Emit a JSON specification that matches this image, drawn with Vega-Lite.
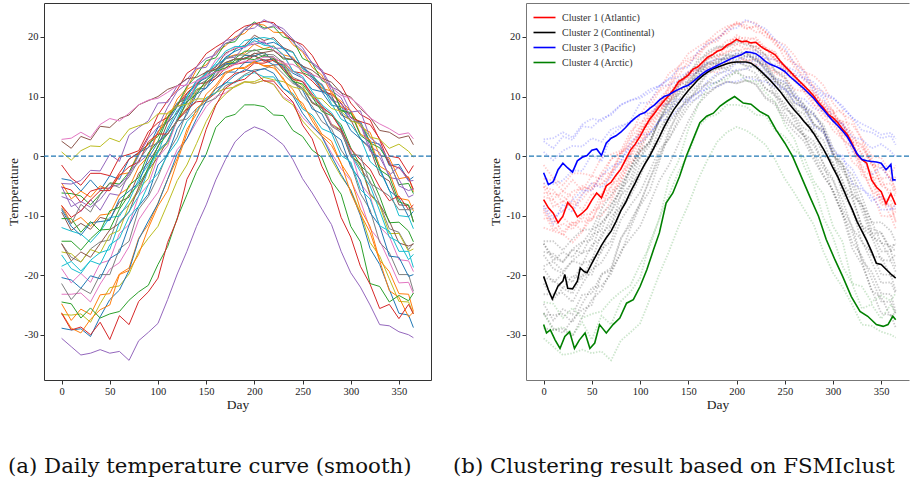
{
"$schema":"https://vega.github.io/schema/vega-lite/v6.json",
"background":"white",
"padding":{"left":5,"top":2,"right":0,"bottom":0},
"spacing":20,
"config":{
"font":"Liberation Serif",
"axis":{"grid":false,"domain":false,"tickColor":"#333","tickSize":4,"tickWidth":1,"labelFont":"Liberation Serif","labelFontSize":10.5,"labelColor":"#222","titleFont":"Liberation Serif","titleFontSize":13.5,"titleFontWeight":"normal","titleColor":"#222","labelPadding":2},
"title":{"font":"DejaVu Serif","fontSize":21.3,"fontWeight":"normal","color":"#111"}
},
"datasets":{
"nm":[{"k":1,"n":"Cluster 1 (Atlantic)"},{"k":2,"n":"Cluster 2 (Continental)"},{"k":3,"n":"Cluster 3 (Pacific)"},{"k":4,"n":"Cluster 4 (Arctic)"}],
"cl":[{"s":0,"k":1},{"s":1,"k":1},{"s":2,"k":1},{"s":3,"k":1},{"s":4,"k":1},{"s":5,"k":1},{"s":6,"k":2},{"s":7,"k":2},{"s":8,"k":2},{"s":9,"k":1},{"s":10,"k":1},{"s":11,"k":1},{"s":12,"k":1},{"s":13,"k":1},{"s":14,"k":1},{"s":15,"k":2},{"s":16,"k":2},{"s":17,"k":2},{"s":18,"k":2},{"s":19,"k":2},{"s":20,"k":2},{"s":21,"k":2},{"s":22,"k":2},{"s":23,"k":3},{"s":24,"k":3},{"s":25,"k":3},{"s":26,"k":3},{"s":27,"k":3},{"s":28,"k":3},{"s":29,"k":2},{"s":30,"k":2},{"s":31,"k":2},{"s":32,"k":4},{"s":33,"k":4},{"s":34,"k":4}],
"mn":[
{"k":1,"d":0,"t":-7.3},{"k":1,"d":5,"t":-8.7},{"k":1,"d":10,"t":-9.6},{"k":1,"d":15,"t":-11.2},{"k":1,"d":20,"t":-10.1},{"k":1,"d":25,"t":-7.8},{"k":1,"d":30,"t":-8.7},{"k":1,"d":35,"t":-10.2},{"k":1,"d":40,"t":-9.6},{"k":1,"d":45,"t":-8.8},{"k":1,"d":50,"t":-7.4},{"k":1,"d":55,"t":-6.2},{"k":1,"d":60,"t":-7.0},{"k":1,"d":65,"t":-5.0},{"k":1,"d":70,"t":-4.4},{"k":1,"d":75,"t":-3.2},{"k":1,"d":80,"t":-2.2},{"k":1,"d":85,"t":-0.6},{"k":1,"d":90,"t":1.0},{"k":1,"d":95,"t":2.0},{"k":1,"d":100,"t":3.3},{"k":1,"d":105,"t":4.8},{"k":1,"d":110,"t":6.2},{"k":1,"d":115,"t":7.2},{"k":1,"d":120,"t":8.3},{"k":1,"d":125,"t":9.3},{"k":1,"d":130,"t":10.2},{"k":1,"d":135,"t":11.2},{"k":1,"d":140,"t":12.5},{"k":1,"d":145,"t":13.0},{"k":1,"d":150,"t":13.6},{"k":1,"d":155,"t":14.6},{"k":1,"d":160,"t":15.0},{"k":1,"d":165,"t":15.8},{"k":1,"d":170,"t":16.6},{"k":1,"d":175,"t":17.0},{"k":1,"d":180,"t":17.6},{"k":1,"d":185,"t":17.9},{"k":1,"d":190,"t":18.6},{"k":1,"d":195,"t":19.0},{"k":1,"d":200,"t":19.6},{"k":1,"d":205,"t":19.2},{"k":1,"d":210,"t":19.3},{"k":1,"d":215,"t":19.0},{"k":1,"d":220,"t":19.1},{"k":1,"d":225,"t":18.4},{"k":1,"d":230,"t":17.9},{"k":1,"d":235,"t":17.5},{"k":1,"d":240,"t":17.0},{"k":1,"d":245,"t":16.0},{"k":1,"d":250,"t":15.1},{"k":1,"d":255,"t":14.3},{"k":1,"d":260,"t":13.4},{"k":1,"d":265,"t":12.6},{"k":1,"d":270,"t":11.8},{"k":1,"d":275,"t":11.0},{"k":1,"d":280,"t":10.1},{"k":1,"d":285,"t":9.0},{"k":1,"d":290,"t":8.1},{"k":1,"d":295,"t":7.0},{"k":1,"d":300,"t":6.4},{"k":1,"d":305,"t":5.6},{"k":1,"d":310,"t":4.5},{"k":1,"d":315,"t":3.6},{"k":1,"d":320,"t":2.0},{"k":1,"d":325,"t":0.2},{"k":1,"d":330,"t":-0.6},{"k":1,"d":335,"t":-1.2},{"k":1,"d":340,"t":-4.0},{"k":1,"d":345,"t":-5.2},{"k":1,"d":350,"t":-6.0},{"k":1,"d":355,"t":-8.0},{"k":1,"d":360,"t":-6.3},{"k":1,"d":365,"t":-8.2},
{"k":2,"d":0,"t":-20.2},{"k":2,"d":5,"t":-22.5},{"k":2,"d":9,"t":-24.0},{"k":2,"d":15,"t":-21.8},{"k":2,"d":20,"t":-21.0},{"k":2,"d":22,"t":-19.9},{"k":2,"d":25,"t":-22.2},{"k":2,"d":30,"t":-22.3},{"k":2,"d":35,"t":-21.0},{"k":2,"d":38,"t":-18.8},{"k":2,"d":42,"t":-19.4},{"k":2,"d":45,"t":-19.6},{"k":2,"d":50,"t":-18.0},{"k":2,"d":55,"t":-16.5},{"k":2,"d":60,"t":-15.0},{"k":2,"d":65,"t":-13.7},{"k":2,"d":70,"t":-12.6},{"k":2,"d":75,"t":-11.0},{"k":2,"d":80,"t":-9.2},{"k":2,"d":85,"t":-7.8},{"k":2,"d":90,"t":-6.0},{"k":2,"d":95,"t":-4.5},{"k":2,"d":100,"t":-2.8},{"k":2,"d":105,"t":-1.3},{"k":2,"d":110,"t":0.0},{"k":2,"d":115,"t":1.6},{"k":2,"d":120,"t":3.2},{"k":2,"d":125,"t":4.9},{"k":2,"d":130,"t":6.4},{"k":2,"d":135,"t":7.8},{"k":2,"d":140,"t":8.9},{"k":2,"d":145,"t":10.0},{"k":2,"d":150,"t":11.0},{"k":2,"d":155,"t":11.9},{"k":2,"d":160,"t":12.8},{"k":2,"d":165,"t":13.5},{"k":2,"d":170,"t":14.1},{"k":2,"d":175,"t":14.6},{"k":2,"d":180,"t":14.9},{"k":2,"d":185,"t":15.2},{"k":2,"d":190,"t":15.5},{"k":2,"d":195,"t":15.7},{"k":2,"d":200,"t":15.8},{"k":2,"d":205,"t":15.8},{"k":2,"d":210,"t":15.8},{"k":2,"d":215,"t":15.6},{"k":2,"d":220,"t":15.0},{"k":2,"d":225,"t":14.3},{"k":2,"d":230,"t":13.5},{"k":2,"d":235,"t":12.7},{"k":2,"d":240,"t":11.8},{"k":2,"d":245,"t":10.9},{"k":2,"d":250,"t":9.8},{"k":2,"d":255,"t":8.7},{"k":2,"d":260,"t":7.7},{"k":2,"d":265,"t":6.8},{"k":2,"d":270,"t":5.8},{"k":2,"d":275,"t":4.9},{"k":2,"d":280,"t":3.8},{"k":2,"d":285,"t":2.5},{"k":2,"d":290,"t":1.2},{"k":2,"d":295,"t":-0.3},{"k":2,"d":300,"t":-2.0},{"k":2,"d":305,"t":-3.5},{"k":2,"d":310,"t":-5.3},{"k":2,"d":315,"t":-7.2},{"k":2,"d":320,"t":-9.0},{"k":2,"d":325,"t":-11.0},{"k":2,"d":330,"t":-12.6},{"k":2,"d":335,"t":-14.2},{"k":2,"d":340,"t":-16.0},{"k":2,"d":345,"t":-18.0},{"k":2,"d":350,"t":-18.2},{"k":2,"d":355,"t":-19.0},{"k":2,"d":360,"t":-19.8},{"k":2,"d":365,"t":-20.5},
{"k":3,"d":0,"t":-2.8},{"k":3,"d":5,"t":-4.8},{"k":3,"d":10,"t":-4.3},{"k":3,"d":15,"t":-2.3},{"k":3,"d":20,"t":-1.2},{"k":3,"d":25,"t":-2.0},{"k":3,"d":30,"t":-2.7},{"k":3,"d":35,"t":-0.8},{"k":3,"d":40,"t":-0.2},{"k":3,"d":45,"t":0.1},{"k":3,"d":50,"t":1.0},{"k":3,"d":55,"t":1.2},{"k":3,"d":60,"t":0.1},{"k":3,"d":65,"t":2.2},{"k":3,"d":70,"t":3.0},{"k":3,"d":75,"t":3.4},{"k":3,"d":80,"t":4.0},{"k":3,"d":85,"t":4.8},{"k":3,"d":90,"t":5.7},{"k":3,"d":95,"t":6.4},{"k":3,"d":100,"t":7.0},{"k":3,"d":105,"t":7.3},{"k":3,"d":110,"t":8.0},{"k":3,"d":115,"t":8.6},{"k":3,"d":120,"t":9.4},{"k":3,"d":125,"t":10.0},{"k":3,"d":130,"t":10.3},{"k":3,"d":135,"t":10.8},{"k":3,"d":140,"t":11.2},{"k":3,"d":145,"t":11.6},{"k":3,"d":150,"t":11.9},{"k":3,"d":155,"t":12.5},{"k":3,"d":160,"t":13.2},{"k":3,"d":165,"t":13.9},{"k":3,"d":170,"t":14.4},{"k":3,"d":175,"t":14.8},{"k":3,"d":180,"t":15.2},{"k":3,"d":185,"t":15.6},{"k":3,"d":190,"t":16.0},{"k":3,"d":195,"t":16.4},{"k":3,"d":200,"t":16.7},{"k":3,"d":205,"t":17.0},{"k":3,"d":210,"t":17.5},{"k":3,"d":215,"t":17.4},{"k":3,"d":220,"t":17.2},{"k":3,"d":225,"t":16.6},{"k":3,"d":230,"t":15.9},{"k":3,"d":235,"t":15.4},{"k":3,"d":240,"t":15.1},{"k":3,"d":245,"t":14.7},{"k":3,"d":250,"t":14.2},{"k":3,"d":255,"t":13.4},{"k":3,"d":260,"t":12.7},{"k":3,"d":265,"t":12.0},{"k":3,"d":270,"t":11.3},{"k":3,"d":275,"t":10.5},{"k":3,"d":280,"t":9.7},{"k":3,"d":285,"t":8.7},{"k":3,"d":290,"t":7.8},{"k":3,"d":295,"t":6.8},{"k":3,"d":300,"t":5.9},{"k":3,"d":305,"t":5.1},{"k":3,"d":310,"t":4.2},{"k":3,"d":315,"t":3.2},{"k":3,"d":320,"t":1.8},{"k":3,"d":325,"t":0.4},{"k":3,"d":330,"t":-0.6},{"k":3,"d":335,"t":-0.8},{"k":3,"d":340,"t":-0.9},{"k":3,"d":345,"t":-1.0},{"k":3,"d":350,"t":-1.2},{"k":3,"d":355,"t":-2.3},{"k":3,"d":360,"t":-1.4},{"k":3,"d":362,"t":-4.0},{"k":3,"d":365,"t":-4.0},
{"k":4,"d":0,"t":-28.3},{"k":4,"d":3,"t":-29.7},{"k":4,"d":7,"t":-29.2},{"k":4,"d":12,"t":-30.9},{"k":4,"d":17,"t":-32.3},{"k":4,"d":22,"t":-30.3},{"k":4,"d":27,"t":-29.5},{"k":4,"d":32,"t":-32.3},{"k":4,"d":37,"t":-30.9},{"k":4,"d":43,"t":-29.7},{"k":4,"d":48,"t":-32.3},{"k":4,"d":53,"t":-31.4},{"k":4,"d":58,"t":-28.3},{"k":4,"d":65,"t":-29.7},{"k":4,"d":72,"t":-28.3},{"k":4,"d":79,"t":-27.2},{"k":4,"d":86,"t":-24.7},{"k":4,"d":93,"t":-24.1},{"k":4,"d":100,"t":-21.9},{"k":4,"d":107,"t":-19.1},{"k":4,"d":114,"t":-15.7},{"k":4,"d":120,"t":-12.9},{"k":4,"d":127,"t":-7.9},{"k":4,"d":134,"t":-6.2},{"k":4,"d":141,"t":-3.4},{"k":4,"d":148,"t":0.0},{"k":4,"d":155,"t":2.8},{"k":4,"d":162,"t":5.6},{"k":4,"d":169,"t":6.7},{"k":4,"d":176,"t":7.2},{"k":4,"d":183,"t":8.4},{"k":4,"d":190,"t":9.2},{"k":4,"d":198,"t":10.0},{"k":4,"d":207,"t":8.9},{"k":4,"d":215,"t":8.7},{"k":4,"d":224,"t":7.5},{"k":4,"d":233,"t":6.7},{"k":4,"d":241,"t":4.4},{"k":4,"d":250,"t":2.2},{"k":4,"d":258,"t":0.0},{"k":4,"d":267,"t":-3.4},{"k":4,"d":276,"t":-6.8},{"k":4,"d":285,"t":-10.1},{"k":4,"d":293,"t":-14.0},{"k":4,"d":302,"t":-17.4},{"k":4,"d":310,"t":-20.2},{"k":4,"d":319,"t":-23.6},{"k":4,"d":328,"t":-26.1},{"k":4,"d":336,"t":-26.9},{"k":4,"d":345,"t":-28.3},{"k":4,"d":352,"t":-28.6},{"k":4,"d":357,"t":-28.3},{"k":4,"d":362,"t":-26.9},{"k":4,"d":365,"t":-27.5}
],
"st":[
{"s":0,"d":0,"t":-3.8},{"s":0,"d":10,"t":-4.1},{"s":0,"d":20,"t":-5.9},{"s":0,"d":30,"t":-4.0},{"s":0,"d":40,"t":-5.8},{"s":0,"d":50,"t":-3.3},{"s":0,"d":60,"t":-3.9},{"s":0,"d":70,"t":-0.5},{"s":0,"d":80,"t":0.6},{"s":0,"d":90,"t":1.4},{"s":0,"d":100,"t":4.8},{"s":0,"d":110,"t":5.7},{"s":0,"d":120,"t":8.3},{"s":0,"d":130,"t":9.0},{"s":0,"d":140,"t":11.2},{"s":0,"d":150,"t":11.4},{"s":0,"d":160,"t":13.1},{"s":0,"d":170,"t":14.1},{"s":0,"d":180,"t":14.1},{"s":0,"d":190,"t":15.7},{"s":0,"d":200,"t":15.8},{"s":0,"d":210,"t":16.2},{"s":0,"d":220,"t":15.3},{"s":0,"d":230,"t":15.4},{"s":0,"d":240,"t":13.9},{"s":0,"d":250,"t":13.1},{"s":0,"d":260,"t":11.2},{"s":0,"d":270,"t":10.8},{"s":0,"d":280,"t":8.5},{"s":0,"d":290,"t":8.3},{"s":0,"d":300,"t":5.8},{"s":0,"d":310,"t":5.8},{"s":0,"d":320,"t":2.4},{"s":0,"d":330,"t":2.0},{"s":0,"d":340,"t":-1.6},{"s":0,"d":350,"t":-1.4},{"s":0,"d":360,"t":-4.1},{"s":0,"d":365,"t":-3.5},
{"s":1,"d":0,"t":-4.5},{"s":1,"d":10,"t":-7.2},{"s":1,"d":20,"t":-5.9},{"s":1,"d":30,"t":-6.9},{"s":1,"d":40,"t":-5.0},{"s":1,"d":50,"t":-5.8},{"s":1,"d":60,"t":-3.1},{"s":1,"d":70,"t":-2.8},{"s":1,"d":80,"t":0.7},{"s":1,"d":90,"t":1.9},{"s":1,"d":100,"t":3.9},{"s":1,"d":110,"t":7.3},{"s":1,"d":120,"t":8.4},{"s":1,"d":130,"t":11.2},{"s":1,"d":140,"t":12.1},{"s":1,"d":150,"t":14.1},{"s":1,"d":160,"t":14.5},{"s":1,"d":170,"t":16.5},{"s":1,"d":180,"t":17.0},{"s":1,"d":190,"t":17.3},{"s":1,"d":200,"t":18.8},{"s":1,"d":210,"t":18.0},{"s":1,"d":220,"t":18.5},{"s":1,"d":230,"t":17.0},{"s":1,"d":240,"t":16.6},{"s":1,"d":250,"t":14.3},{"s":1,"d":260,"t":13.7},{"s":1,"d":270,"t":11.4},{"s":1,"d":280,"t":10.9},{"s":1,"d":290,"t":8.2},{"s":1,"d":300,"t":7.7},{"s":1,"d":310,"t":4.9},{"s":1,"d":320,"t":4.0},{"s":1,"d":330,"t":0.1},{"s":1,"d":340,"t":-0.3},{"s":1,"d":350,"t":-3.8},{"s":1,"d":360,"t":-3.5},{"s":1,"d":365,"t":-6.0},
{"s":2,"d":0,"t":-6.2},{"s":2,"d":10,"t":-6.3},{"s":2,"d":20,"t":-6.7},{"s":2,"d":30,"t":-8.2},{"s":2,"d":40,"t":-6.4},{"s":2,"d":50,"t":-4.5},{"s":2,"d":60,"t":-4.7},{"s":2,"d":70,"t":-2.7},{"s":2,"d":80,"t":0.3},{"s":2,"d":90,"t":2.1},{"s":2,"d":100,"t":3.3},{"s":2,"d":110,"t":6.6},{"s":2,"d":120,"t":8.9},{"s":2,"d":130,"t":9.6},{"s":2,"d":140,"t":11.7},{"s":2,"d":150,"t":13.7},{"s":2,"d":160,"t":14.6},{"s":2,"d":170,"t":15.2},{"s":2,"d":180,"t":16.4},{"s":2,"d":190,"t":17.6},{"s":2,"d":200,"t":17.7},{"s":2,"d":210,"t":18.0},{"s":2,"d":220,"t":17.8},{"s":2,"d":230,"t":16.3},{"s":2,"d":240,"t":16.2},{"s":2,"d":250,"t":14.0},{"s":2,"d":260,"t":13.3},{"s":2,"d":270,"t":12.0},{"s":2,"d":280,"t":9.5},{"s":2,"d":290,"t":7.6},{"s":2,"d":300,"t":7.1},{"s":2,"d":310,"t":5.4},{"s":2,"d":320,"t":2.2},{"s":2,"d":330,"t":1.4},{"s":2,"d":340,"t":-1.1},{"s":2,"d":350,"t":-4.8},{"s":2,"d":360,"t":-4.6},{"s":2,"d":365,"t":-6.3},
{"s":3,"d":0,"t":-1.5},{"s":3,"d":10,"t":-3.7},{"s":3,"d":20,"t":-4.9},{"s":3,"d":30,"t":-2.9},{"s":3,"d":40,"t":-2.9},{"s":3,"d":50,"t":-3.3},{"s":3,"d":60,"t":-0.2},{"s":3,"d":70,"t":0.3},{"s":3,"d":80,"t":0.9},{"s":3,"d":90,"t":4.1},{"s":3,"d":100,"t":5.6},{"s":3,"d":110,"t":6.5},{"s":3,"d":120,"t":8.5},{"s":3,"d":130,"t":10.6},{"s":3,"d":140,"t":12.1},{"s":3,"d":150,"t":12.3},{"s":3,"d":160,"t":13.0},{"s":3,"d":170,"t":14.8},{"s":3,"d":180,"t":15.4},{"s":3,"d":190,"t":15.7},{"s":3,"d":200,"t":16.9},{"s":3,"d":210,"t":15.9},{"s":3,"d":220,"t":16.3},{"s":3,"d":230,"t":15.8},{"s":3,"d":240,"t":14.2},{"s":3,"d":250,"t":13.9},{"s":3,"d":260,"t":12.6},{"s":3,"d":270,"t":10.9},{"s":3,"d":280,"t":10.4},{"s":3,"d":290,"t":8.9},{"s":3,"d":300,"t":6.5},{"s":3,"d":310,"t":5.8},{"s":3,"d":320,"t":5.3},{"s":3,"d":330,"t":2.9},{"s":3,"d":340,"t":0.0},{"s":3,"d":350,"t":-0.3},{"s":3,"d":360,"t":-2.9},{"s":3,"d":365,"t":-1.6},
{"s":4,"d":0,"t":-6.8},{"s":4,"d":10,"t":-7.4},{"s":4,"d":20,"t":-9.3},{"s":4,"d":30,"t":-7.3},{"s":4,"d":40,"t":-9.1},{"s":4,"d":50,"t":-6.3},{"s":4,"d":60,"t":-6.6},{"s":4,"d":70,"t":-2.7},{"s":4,"d":80,"t":-1.1},{"s":4,"d":90,"t":0.3},{"s":4,"d":100,"t":4.2},{"s":4,"d":110,"t":5.7},{"s":4,"d":120,"t":8.9},{"s":4,"d":130,"t":10.0},{"s":4,"d":140,"t":12.7},{"s":4,"d":150,"t":13.2},{"s":4,"d":160,"t":15.1},{"s":4,"d":170,"t":16.4},{"s":4,"d":180,"t":16.6},{"s":4,"d":190,"t":18.5},{"s":4,"d":200,"t":18.8},{"s":4,"d":210,"t":19.1},{"s":4,"d":220,"t":18.1},{"s":4,"d":230,"t":18.1},{"s":4,"d":240,"t":16.3},{"s":4,"d":250,"t":15.1},{"s":4,"d":260,"t":12.9},{"s":4,"d":270,"t":12.1},{"s":4,"d":280,"t":9.4},{"s":4,"d":290,"t":8.8},{"s":4,"d":300,"t":5.9},{"s":4,"d":310,"t":5.5},{"s":4,"d":320,"t":1.6},{"s":4,"d":330,"t":0.6},{"s":4,"d":340,"t":-3.6},{"s":4,"d":350,"t":-3.9},{"s":4,"d":360,"t":-6.9},{"s":4,"d":365,"t":-6.5},
{"s":5,"d":0,"t":-9.4},{"s":5,"d":10,"t":-12.5},{"s":5,"d":20,"t":-11.3},{"s":5,"d":30,"t":-12.3},{"s":5,"d":40,"t":-10.3},{"s":5,"d":50,"t":-10.7},{"s":5,"d":60,"t":-7.7},{"s":5,"d":70,"t":-6.9},{"s":5,"d":80,"t":-2.9},{"s":5,"d":90,"t":-1.1},{"s":5,"d":100,"t":1.5},{"s":5,"d":110,"t":5.6},{"s":5,"d":120,"t":7.3},{"s":5,"d":130,"t":10.5},{"s":5,"d":140,"t":11.9},{"s":5,"d":150,"t":14.2},{"s":5,"d":160,"t":14.9},{"s":5,"d":170,"t":17.3},{"s":5,"d":180,"t":18.0},{"s":5,"d":190,"t":18.6},{"s":5,"d":200,"t":20.3},{"s":5,"d":210,"t":19.4},{"s":5,"d":220,"t":19.9},{"s":5,"d":230,"t":18.2},{"s":5,"d":240,"t":17.5},{"s":5,"d":250,"t":14.7},{"s":5,"d":260,"t":13.8},{"s":5,"d":270,"t":11.1},{"s":5,"d":280,"t":10.2},{"s":5,"d":290,"t":6.9},{"s":5,"d":300,"t":6.1},{"s":5,"d":310,"t":2.8},{"s":5,"d":320,"t":1.3},{"s":5,"d":330,"t":-3.2},{"s":5,"d":340,"t":-4.2},{"s":5,"d":350,"t":-8.2},{"s":5,"d":360,"t":-8.3},{"s":5,"d":365,"t":-11.0},
{"s":6,"d":0,"t":-23.2},{"s":6,"d":10,"t":-23.2},{"s":6,"d":20,"t":-23.0},{"s":6,"d":30,"t":-24.5},{"s":6,"d":40,"t":-21.5},{"s":6,"d":50,"t":-19.0},{"s":6,"d":60,"t":-17.9},{"s":6,"d":70,"t":-15.2},{"s":6,"d":80,"t":-10.7},{"s":6,"d":90,"t":-8.3},{"s":6,"d":100,"t":-6.1},{"s":6,"d":110,"t":-2.5},{"s":6,"d":120,"t":1.1},{"s":6,"d":130,"t":2.9},{"s":6,"d":140,"t":5.7},{"s":6,"d":150,"t":8.3},{"s":6,"d":160,"t":10.0},{"s":6,"d":170,"t":10.6},{"s":6,"d":180,"t":11.8},{"s":6,"d":190,"t":12.5},{"s":6,"d":200,"t":12.2},{"s":6,"d":210,"t":12.7},{"s":6,"d":220,"t":12.1},{"s":6,"d":230,"t":9.9},{"s":6,"d":240,"t":9.0},{"s":6,"d":250,"t":6.5},{"s":6,"d":260,"t":4.9},{"s":6,"d":270,"t":3.4},{"s":6,"d":280,"t":0.5},{"s":6,"d":290,"t":-2.1},{"s":6,"d":300,"t":-4.1},{"s":6,"d":310,"t":-7.5},{"s":6,"d":320,"t":-12.2},{"s":6,"d":330,"t":-14.2},{"s":6,"d":340,"t":-17.7},{"s":6,"d":350,"t":-21.3},{"s":6,"d":360,"t":-21.2},{"s":6,"d":365,"t":-23.1},
{"s":7,"d":0,"t":-14.7},{"s":7,"d":10,"t":-17.0},{"s":7,"d":20,"t":-17.8},{"s":7,"d":30,"t":-15.6},{"s":7,"d":40,"t":-14.4},{"s":7,"d":50,"t":-14.1},{"s":7,"d":60,"t":-9.7},{"s":7,"d":70,"t":-8.2},{"s":7,"d":80,"t":-5.9},{"s":7,"d":90,"t":-1.8},{"s":7,"d":100,"t":1.0},{"s":7,"d":110,"t":2.4},{"s":7,"d":120,"t":5.9},{"s":7,"d":130,"t":9.3},{"s":7,"d":140,"t":11.8},{"s":7,"d":150,"t":12.7},{"s":7,"d":160,"t":14.3},{"s":7,"d":170,"t":16.3},{"s":7,"d":180,"t":16.9},{"s":7,"d":190,"t":17.0},{"s":7,"d":200,"t":17.9},{"s":7,"d":210,"t":17.1},{"s":7,"d":220,"t":17.0},{"s":7,"d":230,"t":15.7},{"s":7,"d":240,"t":13.2},{"s":7,"d":250,"t":12.5},{"s":7,"d":260,"t":10.1},{"s":7,"d":270,"t":8.1},{"s":7,"d":280,"t":7.0},{"s":7,"d":290,"t":4.6},{"s":7,"d":300,"t":0.5},{"s":7,"d":310,"t":-2.1},{"s":7,"d":320,"t":-4.2},{"s":7,"d":330,"t":-8.1},{"s":7,"d":340,"t":-12.2},{"s":7,"d":350,"t":-12.8},{"s":7,"d":360,"t":-15.7},{"s":7,"d":365,"t":-14.6},
{"s":8,"d":0,"t":-16.1},{"s":8,"d":10,"t":-16.4},{"s":8,"d":20,"t":-17.8},{"s":8,"d":30,"t":-15.7},{"s":8,"d":40,"t":-16.3},{"s":8,"d":50,"t":-13.2},{"s":8,"d":60,"t":-12.5},{"s":8,"d":70,"t":-8.2},{"s":8,"d":80,"t":-5.5},{"s":8,"d":90,"t":-3.8},{"s":8,"d":100,"t":0.7},{"s":8,"d":110,"t":2.1},{"s":8,"d":120,"t":6.1},{"s":8,"d":130,"t":8.1},{"s":8,"d":140,"t":11.2},{"s":8,"d":150,"t":12.0},{"s":8,"d":160,"t":14.5},{"s":8,"d":170,"t":15.7},{"s":8,"d":180,"t":15.7},{"s":8,"d":190,"t":17.0},{"s":8,"d":200,"t":16.8},{"s":8,"d":210,"t":17.4},{"s":8,"d":220,"t":16.0},{"s":8,"d":230,"t":15.4},{"s":8,"d":240,"t":13.0},{"s":8,"d":250,"t":11.8},{"s":8,"d":260,"t":8.9},{"s":8,"d":270,"t":8.3},{"s":8,"d":280,"t":5.4},{"s":8,"d":290,"t":4.4},{"s":8,"d":300,"t":0.3},{"s":8,"d":310,"t":-1.5},{"s":8,"d":320,"t":-6.5},{"s":8,"d":330,"t":-8.3},{"s":8,"d":340,"t":-13.0},{"s":8,"d":350,"t":-13.0},{"s":8,"d":360,"t":-16.0},{"s":8,"d":365,"t":-15.6},
{"s":9,"d":0,"t":-12.0},{"s":9,"d":10,"t":-12.6},{"s":9,"d":20,"t":-13.1},{"s":9,"d":30,"t":-14.5},{"s":9,"d":40,"t":-12.7},{"s":9,"d":50,"t":-10.3},{"s":9,"d":60,"t":-10.1},{"s":9,"d":70,"t":-7.5},{"s":9,"d":80,"t":-3.9},{"s":9,"d":90,"t":-1.4},{"s":9,"d":100,"t":0.6},{"s":9,"d":110,"t":4.7},{"s":9,"d":120,"t":7.7},{"s":9,"d":130,"t":9.0},{"s":9,"d":140,"t":11.6},{"s":9,"d":150,"t":14.0},{"s":9,"d":160,"t":15.3},{"s":9,"d":170,"t":16.3},{"s":9,"d":180,"t":17.8},{"s":9,"d":190,"t":19.4},{"s":9,"d":200,"t":19.7},{"s":9,"d":210,"t":19.9},{"s":9,"d":220,"t":19.6},{"s":9,"d":230,"t":17.9},{"s":9,"d":240,"t":17.4},{"s":9,"d":250,"t":14.7},{"s":9,"d":260,"t":13.6},{"s":9,"d":270,"t":11.8},{"s":9,"d":280,"t":8.8},{"s":9,"d":290,"t":6.2},{"s":9,"d":300,"t":5.3},{"s":9,"d":310,"t":3.1},{"s":9,"d":320,"t":-0.9},{"s":9,"d":330,"t":-2.4},{"s":9,"d":340,"t":-5.7},{"s":9,"d":350,"t":-10.0},{"s":9,"d":360,"t":-10.2},{"s":9,"d":365,"t":-12.2},
{"s":10,"d":0,"t":-9.0},{"s":10,"d":10,"t":-11.8},{"s":10,"d":20,"t":-13.3},{"s":10,"d":30,"t":-11.2},{"s":10,"d":40,"t":-11.0},{"s":10,"d":50,"t":-10.8},{"s":10,"d":60,"t":-7.2},{"s":10,"d":70,"t":-5.9},{"s":10,"d":80,"t":-4.5},{"s":10,"d":90,"t":-0.3},{"s":10,"d":100,"t":2.3},{"s":10,"d":110,"t":4.2},{"s":10,"d":120,"t":7.1},{"s":10,"d":130,"t":10.0},{"s":10,"d":140,"t":12.3},{"s":10,"d":150,"t":13.1},{"s":10,"d":160,"t":14.3},{"s":10,"d":170,"t":16.6},{"s":10,"d":180,"t":17.6},{"s":10,"d":190,"t":18.3},{"s":10,"d":200,"t":19.9},{"s":10,"d":210,"t":18.8},{"s":10,"d":220,"t":19.1},{"s":10,"d":230,"t":18.2},{"s":10,"d":240,"t":16.1},{"s":10,"d":250,"t":15.2},{"s":10,"d":260,"t":13.3},{"s":10,"d":270,"t":10.9},{"s":10,"d":280,"t":9.8},{"s":10,"d":290,"t":7.4},{"s":10,"d":300,"t":4.3},{"s":10,"d":310,"t":2.9},{"s":10,"d":320,"t":1.5},{"s":10,"d":330,"t":-2.0},{"s":10,"d":340,"t":-5.8},{"s":10,"d":350,"t":-7.1},{"s":10,"d":360,"t":-10.2},{"s":10,"d":365,"t":-9.3},
{"s":11,"d":0,"t":-8.3},{"s":11,"d":10,"t":-11.2},{"s":11,"d":20,"t":-10.3},{"s":11,"d":30,"t":-11.8},{"s":11,"d":40,"t":-9.9},{"s":11,"d":50,"t":-9.7},{"s":11,"d":60,"t":-6.4},{"s":11,"d":70,"t":-5.3},{"s":11,"d":80,"t":-1.8},{"s":11,"d":90,"t":0.0},{"s":11,"d":100,"t":4.0},{"s":11,"d":110,"t":6.1},{"s":11,"d":120,"t":9.6},{"s":11,"d":130,"t":11.4},{"s":11,"d":140,"t":14.5},{"s":11,"d":150,"t":15.3},{"s":11,"d":160,"t":17.4},{"s":11,"d":170,"t":18.5},{"s":11,"d":180,"t":20.0},{"s":11,"d":190,"t":20.6},{"s":11,"d":200,"t":22.2},{"s":11,"d":210,"t":22.0},{"s":11,"d":220,"t":20.8},{"s":11,"d":230,"t":20.7},{"s":11,"d":240,"t":18.7},{"s":11,"d":250,"t":17.5},{"s":11,"d":260,"t":14.9},{"s":11,"d":270,"t":13.6},{"s":11,"d":280,"t":10.5},{"s":11,"d":290,"t":9.2},{"s":11,"d":300,"t":7.6},{"s":11,"d":310,"t":3.7},{"s":11,"d":320,"t":2.7},{"s":11,"d":330,"t":-1.7},{"s":11,"d":340,"t":-2.7},{"s":11,"d":350,"t":-7.1},{"s":11,"d":360,"t":-7.4},{"s":11,"d":365,"t":-9.2},
{"s":12,"d":0,"t":-10.5},{"s":12,"d":10,"t":-10.5},{"s":12,"d":20,"t":-12.8},{"s":12,"d":30,"t":-11.0},{"s":12,"d":40,"t":-12.6},{"s":12,"d":50,"t":-9.2},{"s":12,"d":60,"t":-8.6},{"s":12,"d":70,"t":-4.9},{"s":12,"d":80,"t":-3.6},{"s":12,"d":90,"t":0.5},{"s":12,"d":100,"t":2.5},{"s":12,"d":110,"t":6.4},{"s":12,"d":120,"t":8.5},{"s":12,"d":130,"t":11.7},{"s":12,"d":140,"t":13.5},{"s":12,"d":150,"t":16.0},{"s":12,"d":160,"t":16.5},{"s":12,"d":170,"t":18.9},{"s":12,"d":180,"t":19.2},{"s":12,"d":190,"t":21.3},{"s":12,"d":200,"t":22.5},{"s":12,"d":210,"t":21.5},{"s":12,"d":220,"t":21.7},{"s":12,"d":230,"t":20.0},{"s":12,"d":240,"t":19.5},{"s":12,"d":250,"t":16.4},{"s":12,"d":260,"t":15.6},{"s":12,"d":270,"t":12.7},{"s":12,"d":280,"t":11.8},{"s":12,"d":290,"t":7.7},{"s":12,"d":300,"t":7.3},{"s":12,"d":310,"t":3.5},{"s":12,"d":320,"t":2.3},{"s":12,"d":330,"t":-2.3},{"s":12,"d":340,"t":-3.4},{"s":12,"d":350,"t":-7.7},{"s":12,"d":360,"t":-8.2},{"s":12,"d":365,"t":-11.1},
{"s":13,"d":0,"t":-5.2},{"s":13,"d":10,"t":-5.7},{"s":13,"d":20,"t":-7.8},{"s":13,"d":30,"t":-5.9},{"s":13,"d":40,"t":-5.4},{"s":13,"d":50,"t":-5.4},{"s":13,"d":60,"t":-2.8},{"s":13,"d":70,"t":-0.5},{"s":13,"d":80,"t":0.5},{"s":13,"d":90,"t":3.3},{"s":13,"d":100,"t":6.9},{"s":13,"d":110,"t":9.3},{"s":13,"d":120,"t":11.1},{"s":13,"d":130,"t":13.9},{"s":13,"d":140,"t":15.0},{"s":13,"d":150,"t":17.2},{"s":13,"d":160,"t":18.3},{"s":13,"d":170,"t":19.3},{"s":13,"d":180,"t":20.8},{"s":13,"d":190,"t":21.8},{"s":13,"d":200,"t":22.2},{"s":13,"d":210,"t":22.6},{"s":13,"d":220,"t":22.4},{"s":13,"d":230,"t":20.8},{"s":13,"d":240,"t":19.4},{"s":13,"d":250,"t":18.7},{"s":13,"d":260,"t":16.9},{"s":13,"d":270,"t":14.1},{"s":13,"d":280,"t":13.5},{"s":13,"d":290,"t":11.9},{"s":13,"d":300,"t":8.9},{"s":13,"d":310,"t":7.0},{"s":13,"d":320,"t":6.1},{"s":13,"d":330,"t":2.7},{"s":13,"d":340,"t":-1.4},{"s":13,"d":350,"t":-2.0},{"s":13,"d":360,"t":-3.7},{"s":13,"d":365,"t":-5.6},
{"s":14,"d":0,"t":-5.1},{"s":14,"d":10,"t":-8.5},{"s":14,"d":20,"t":-7.6},{"s":14,"d":30,"t":-8.6},{"s":14,"d":40,"t":-7.3},{"s":14,"d":50,"t":-5.2},{"s":14,"d":60,"t":-4.8},{"s":14,"d":70,"t":-3.2},{"s":14,"d":80,"t":0.1},{"s":14,"d":90,"t":3.0},{"s":14,"d":100,"t":4.9},{"s":14,"d":110,"t":8.2},{"s":14,"d":120,"t":10.9},{"s":14,"d":130,"t":12.1},{"s":14,"d":140,"t":15.0},{"s":14,"d":150,"t":16.4},{"s":14,"d":160,"t":17.0},{"s":14,"d":170,"t":19.4},{"s":14,"d":180,"t":19.7},{"s":14,"d":190,"t":21.4},{"s":14,"d":200,"t":22.3},{"s":14,"d":210,"t":21.3},{"s":14,"d":220,"t":21.9},{"s":14,"d":230,"t":20.9},{"s":14,"d":240,"t":19.1},{"s":14,"d":250,"t":17.7},{"s":14,"d":260,"t":15.7},{"s":14,"d":270,"t":14.5},{"s":14,"d":280,"t":11.6},{"s":14,"d":290,"t":10.8},{"s":14,"d":300,"t":7.4},{"s":14,"d":310,"t":7.6},{"s":14,"d":320,"t":3.1},{"s":14,"d":330,"t":1.8},{"s":14,"d":340,"t":-0.8},{"s":14,"d":350,"t":-5.0},{"s":14,"d":360,"t":-5.8},{"s":14,"d":365,"t":-5.5},
{"s":15,"d":0,"t":-14.7},{"s":15,"d":10,"t":-17.6},{"s":15,"d":20,"t":-16.1},{"s":15,"d":30,"t":-17.0},{"s":15,"d":40,"t":-14.7},{"s":15,"d":50,"t":-12.4},{"s":15,"d":60,"t":-11.3},{"s":15,"d":70,"t":-9.4},{"s":15,"d":80,"t":-5.2},{"s":15,"d":90,"t":-2.4},{"s":15,"d":100,"t":-0.2},{"s":15,"d":110,"t":2.6},{"s":15,"d":120,"t":6.0},{"s":15,"d":130,"t":7.6},{"s":15,"d":140,"t":10.8},{"s":15,"d":150,"t":12.4},{"s":15,"d":160,"t":13.4},{"s":15,"d":170,"t":15.4},{"s":15,"d":180,"t":15.5},{"s":15,"d":190,"t":16.5},{"s":15,"d":200,"t":16.8},{"s":15,"d":210,"t":16.1},{"s":15,"d":220,"t":16.3},{"s":15,"d":230,"t":14.9},{"s":15,"d":240,"t":12.6},{"s":15,"d":250,"t":11.4},{"s":15,"d":260,"t":8.9},{"s":15,"d":270,"t":8.0},{"s":15,"d":280,"t":5.2},{"s":15,"d":290,"t":4.3},{"s":15,"d":300,"t":-0.1},{"s":15,"d":310,"t":-1.2},{"s":15,"d":320,"t":-6.3},{"s":15,"d":330,"t":-8.1},{"s":15,"d":340,"t":-10.9},{"s":15,"d":350,"t":-14.6},{"s":15,"d":360,"t":-15.1},{"s":15,"d":365,"t":-14.8},
{"s":16,"d":0,"t":-18.9},{"s":16,"d":10,"t":-21.3},{"s":16,"d":20,"t":-19.7},{"s":16,"d":30,"t":-21.2},{"s":16,"d":40,"t":-18.0},{"s":16,"d":50,"t":-17.5},{"s":16,"d":60,"t":-13.0},{"s":16,"d":70,"t":-11.5},{"s":16,"d":80,"t":-6.7},{"s":16,"d":90,"t":-4.8},{"s":16,"d":100,"t":-0.2},{"s":16,"d":110,"t":1.7},{"s":16,"d":120,"t":6.1},{"s":16,"d":130,"t":8.8},{"s":16,"d":140,"t":12.3},{"s":16,"d":150,"t":13.5},{"s":16,"d":160,"t":16.2},{"s":16,"d":170,"t":17.0},{"s":16,"d":180,"t":18.3},{"s":16,"d":190,"t":18.2},{"s":16,"d":200,"t":19.2},{"s":16,"d":210,"t":19.3},{"s":16,"d":220,"t":17.7},{"s":16,"d":230,"t":17.0},{"s":16,"d":240,"t":14.3},{"s":16,"d":250,"t":13.1},{"s":16,"d":260,"t":9.8},{"s":16,"d":270,"t":8.7},{"s":16,"d":280,"t":5.4},{"s":16,"d":290,"t":3.9},{"s":16,"d":300,"t":0.9},{"s":16,"d":310,"t":-4.6},{"s":16,"d":320,"t":-6.7},{"s":16,"d":330,"t":-11.9},{"s":16,"d":340,"t":-13.5},{"s":16,"d":350,"t":-17.4},{"s":16,"d":360,"t":-17.6},{"s":16,"d":365,"t":-19.4},
{"s":17,"d":0,"t":-21.4},{"s":17,"d":10,"t":-24.1},{"s":17,"d":20,"t":-22.2},{"s":17,"d":30,"t":-23.1},{"s":17,"d":40,"t":-19.9},{"s":17,"d":50,"t":-19.9},{"s":17,"d":60,"t":-15.6},{"s":17,"d":70,"t":-14.3},{"s":17,"d":80,"t":-8.9},{"s":17,"d":90,"t":-6.8},{"s":17,"d":100,"t":-3.5},{"s":17,"d":110,"t":0.5},{"s":17,"d":120,"t":3.2},{"s":17,"d":130,"t":7.5},{"s":17,"d":140,"t":9.4},{"s":17,"d":150,"t":12.1},{"s":17,"d":160,"t":13.6},{"s":17,"d":170,"t":15.7},{"s":17,"d":180,"t":16.3},{"s":17,"d":190,"t":16.2},{"s":17,"d":200,"t":17.3},{"s":17,"d":210,"t":16.7},{"s":17,"d":220,"t":16.7},{"s":17,"d":230,"t":14.4},{"s":17,"d":240,"t":13.0},{"s":17,"d":250,"t":10.1},{"s":17,"d":260,"t":8.4},{"s":17,"d":270,"t":5.8},{"s":17,"d":280,"t":4.6},{"s":17,"d":290,"t":1.0},{"s":17,"d":300,"t":-1.3},{"s":17,"d":310,"t":-6.3},{"s":17,"d":320,"t":-9.0},{"s":17,"d":330,"t":-14.5},{"s":17,"d":340,"t":-16.2},{"s":17,"d":350,"t":-19.9},{"s":17,"d":360,"t":-19.9},{"s":17,"d":365,"t":-22.7},
{"s":18,"d":0,"t":-26.6},{"s":18,"d":10,"t":-26.7},{"s":18,"d":20,"t":-26.5},{"s":18,"d":30,"t":-27.9},{"s":18,"d":40,"t":-24.8},{"s":18,"d":50,"t":-22.1},{"s":18,"d":60,"t":-21.8},{"s":18,"d":70,"t":-19.8},{"s":18,"d":80,"t":-16.0},{"s":18,"d":90,"t":-13.8},{"s":18,"d":100,"t":-11.8},{"s":18,"d":110,"t":-8.0},{"s":18,"d":120,"t":-4.1},{"s":18,"d":130,"t":-1.5},{"s":18,"d":140,"t":2.1},{"s":18,"d":150,"t":5.8},{"s":18,"d":160,"t":8.7},{"s":18,"d":170,"t":10.4},{"s":18,"d":180,"t":11.7},{"s":18,"d":190,"t":12.5},{"s":18,"d":200,"t":12.2},{"s":18,"d":210,"t":12.7},{"s":18,"d":220,"t":12.0},{"s":18,"d":230,"t":9.7},{"s":18,"d":240,"t":8.6},{"s":18,"d":250,"t":5.9},{"s":18,"d":260,"t":4.1},{"s":18,"d":270,"t":2.5},{"s":18,"d":280,"t":-0.6},{"s":18,"d":290,"t":-3.4},{"s":18,"d":300,"t":-5.7},{"s":18,"d":310,"t":-9.5},{"s":18,"d":320,"t":-14.5},{"s":18,"d":330,"t":-16.8},{"s":18,"d":340,"t":-20.6},{"s":18,"d":350,"t":-24.4},{"s":18,"d":360,"t":-24.5},{"s":18,"d":365,"t":-26.5},
{"s":19,"d":0,"t":-16.6},{"s":19,"d":10,"t":-18.9},{"s":19,"d":20,"t":-19.7},{"s":19,"d":30,"t":-17.5},{"s":19,"d":40,"t":-16.2},{"s":19,"d":50,"t":-15.7},{"s":19,"d":60,"t":-11.1},{"s":19,"d":70,"t":-9.3},{"s":19,"d":80,"t":-6.7},{"s":19,"d":90,"t":-2.3},{"s":19,"d":100,"t":0.8},{"s":19,"d":110,"t":2.4},{"s":19,"d":120,"t":6.3},{"s":19,"d":130,"t":9.9},{"s":19,"d":140,"t":12.7},{"s":19,"d":150,"t":13.8},{"s":19,"d":160,"t":15.6},{"s":19,"d":170,"t":17.6},{"s":19,"d":180,"t":18.4},{"s":19,"d":190,"t":18.4},{"s":19,"d":200,"t":19.4},{"s":19,"d":210,"t":18.6},{"s":19,"d":220,"t":18.4},{"s":19,"d":230,"t":17.0},{"s":19,"d":240,"t":14.3},{"s":19,"d":250,"t":13.4},{"s":19,"d":260,"t":10.8},{"s":19,"d":270,"t":8.6},{"s":19,"d":280,"t":7.3},{"s":19,"d":290,"t":4.8},{"s":19,"d":300,"t":0.3},{"s":19,"d":310,"t":-2.6},{"s":19,"d":320,"t":-5.0},{"s":19,"d":330,"t":-9.2},{"s":19,"d":340,"t":-13.6},{"s":19,"d":350,"t":-14.4},{"s":19,"d":360,"t":-17.4},{"s":19,"d":365,"t":-16.5},
{"s":20,"d":0,"t":-20.4},{"s":20,"d":10,"t":-20.8},{"s":20,"d":20,"t":-22.2},{"s":20,"d":30,"t":-20.1},{"s":20,"d":40,"t":-20.6},{"s":20,"d":50,"t":-17.2},{"s":20,"d":60,"t":-16.2},{"s":20,"d":70,"t":-11.6},{"s":20,"d":80,"t":-8.4},{"s":20,"d":90,"t":-6.4},{"s":20,"d":100,"t":-1.5},{"s":20,"d":110,"t":0.2},{"s":20,"d":120,"t":4.6},{"s":20,"d":130,"t":7.0},{"s":20,"d":140,"t":10.4},{"s":20,"d":150,"t":11.4},{"s":20,"d":160,"t":14.2},{"s":20,"d":170,"t":15.5},{"s":20,"d":180,"t":15.6},{"s":20,"d":190,"t":16.9},{"s":20,"d":200,"t":16.8},{"s":20,"d":210,"t":17.4},{"s":20,"d":220,"t":15.9},{"s":20,"d":230,"t":15.2},{"s":20,"d":240,"t":12.5},{"s":20,"d":250,"t":11.1},{"s":20,"d":260,"t":7.9},{"s":20,"d":270,"t":7.1},{"s":20,"d":280,"t":3.9},{"s":20,"d":290,"t":2.7},{"s":20,"d":300,"t":-1.8},{"s":20,"d":310,"t":-4.0},{"s":20,"d":320,"t":-9.5},{"s":20,"d":330,"t":-11.7},{"s":20,"d":340,"t":-16.8},{"s":20,"d":350,"t":-17.0},{"s":20,"d":360,"t":-20.2},{"s":20,"d":365,"t":-19.9},
{"s":21,"d":0,"t":-24.8},{"s":21,"d":10,"t":-27.6},{"s":21,"d":20,"t":-25.7},{"s":21,"d":30,"t":-26.6},{"s":21,"d":40,"t":-23.3},{"s":21,"d":50,"t":-23.1},{"s":21,"d":60,"t":-19.8},{"s":21,"d":70,"t":-18.8},{"s":21,"d":80,"t":-13.8},{"s":21,"d":90,"t":-11.5},{"s":21,"d":100,"t":-7.9},{"s":21,"d":110,"t":-3.9},{"s":21,"d":120,"t":-0.4},{"s":21,"d":130,"t":4.5},{"s":21,"d":140,"t":7.1},{"s":21,"d":150,"t":10.4},{"s":21,"d":160,"t":11.9},{"s":21,"d":170,"t":14.1},{"s":21,"d":180,"t":14.7},{"s":21,"d":190,"t":14.7},{"s":21,"d":200,"t":15.8},{"s":21,"d":210,"t":15.2},{"s":21,"d":220,"t":15.2},{"s":21,"d":230,"t":12.8},{"s":21,"d":240,"t":11.2},{"s":21,"d":250,"t":8.3},{"s":21,"d":260,"t":6.5},{"s":21,"d":270,"t":3.7},{"s":21,"d":280,"t":2.5},{"s":21,"d":290,"t":-1.3},{"s":21,"d":300,"t":-3.8},{"s":21,"d":310,"t":-8.9},{"s":21,"d":320,"t":-11.8},{"s":21,"d":330,"t":-17.5},{"s":21,"d":340,"t":-19.4},{"s":21,"d":350,"t":-23.1},{"s":21,"d":360,"t":-23.2},{"s":21,"d":365,"t":-26.1},
{"s":22,"d":0,"t":-14.3},{"s":22,"d":10,"t":-14.3},{"s":22,"d":20,"t":-15.8},{"s":22,"d":30,"t":-13.9},{"s":22,"d":40,"t":-12.4},{"s":22,"d":50,"t":-12.3},{"s":22,"d":60,"t":-8.9},{"s":22,"d":70,"t":-6.5},{"s":22,"d":80,"t":-4.8},{"s":22,"d":90,"t":-2.1},{"s":22,"d":100,"t":1.7},{"s":22,"d":110,"t":3.7},{"s":22,"d":120,"t":5.9},{"s":22,"d":130,"t":9.1},{"s":22,"d":140,"t":10.4},{"s":22,"d":150,"t":12.7},{"s":22,"d":160,"t":14.2},{"s":22,"d":170,"t":14.8},{"s":22,"d":180,"t":16.1},{"s":22,"d":190,"t":16.4},{"s":22,"d":200,"t":16.2},{"s":22,"d":210,"t":16.9},{"s":22,"d":220,"t":16.4},{"s":22,"d":230,"t":14.4},{"s":22,"d":240,"t":12.5},{"s":22,"d":250,"t":12.1},{"s":22,"d":260,"t":9.9},{"s":22,"d":270,"t":7.5},{"s":22,"d":280,"t":6.8},{"s":22,"d":290,"t":5.3},{"s":22,"d":300,"t":1.4},{"s":22,"d":310,"t":-1.6},{"s":22,"d":320,"t":-3.1},{"s":22,"d":330,"t":-6.8},{"s":22,"d":340,"t":-11.2},{"s":22,"d":350,"t":-11.1},{"s":22,"d":360,"t":-12.6},{"s":22,"d":365,"t":-14.4},
{"s":23,"d":0,"t":-8.3},{"s":23,"d":10,"t":-10.3},{"s":23,"d":20,"t":-9.2},{"s":23,"d":30,"t":-7.4},{"s":23,"d":40,"t":-5.8},{"s":23,"d":50,"t":-5.8},{"s":23,"d":60,"t":-3.3},{"s":23,"d":70,"t":-1.8},{"s":23,"d":80,"t":-1.0},{"s":23,"d":90,"t":2.4},{"s":23,"d":100,"t":3.7},{"s":23,"d":110,"t":3.7},{"s":23,"d":120,"t":6.0},{"s":23,"d":130,"t":7.9},{"s":23,"d":140,"t":9.1},{"s":23,"d":150,"t":9.3},{"s":23,"d":160,"t":10.6},{"s":23,"d":170,"t":12.6},{"s":23,"d":180,"t":13.9},{"s":23,"d":190,"t":14.2},{"s":23,"d":200,"t":15.6},{"s":23,"d":210,"t":15.6},{"s":23,"d":220,"t":16.1},{"s":23,"d":230,"t":14.7},{"s":23,"d":240,"t":12.9},{"s":23,"d":250,"t":12.5},{"s":23,"d":260,"t":10.4},{"s":23,"d":270,"t":8.3},{"s":23,"d":280,"t":7.0},{"s":23,"d":290,"t":4.5},{"s":23,"d":300,"t":1.2},{"s":23,"d":310,"t":-0.6},{"s":23,"d":320,"t":-2.2},{"s":23,"d":330,"t":-5.2},{"s":23,"d":340,"t":-7.5},{"s":23,"d":350,"t":-6.7},{"s":23,"d":360,"t":-9.0},{"s":23,"d":365,"t":-8.2},
{"s":24,"d":0,"t":-4.6},{"s":24,"d":10,"t":-4.7},{"s":24,"d":20,"t":-4.1},{"s":24,"d":30,"t":-2.4},{"s":24,"d":40,"t":-2.5},{"s":24,"d":50,"t":0.3},{"s":24,"d":60,"t":-0.9},{"s":24,"d":70,"t":3.5},{"s":24,"d":80,"t":4.8},{"s":24,"d":90,"t":5.9},{"s":24,"d":100,"t":8.9},{"s":24,"d":110,"t":9.0},{"s":24,"d":120,"t":11.8},{"s":24,"d":130,"t":12.9},{"s":24,"d":140,"t":14.7},{"s":24,"d":150,"t":14.9},{"s":24,"d":160,"t":17.6},{"s":24,"d":170,"t":18.9},{"s":24,"d":180,"t":19.6},{"s":24,"d":190,"t":21.2},{"s":24,"d":200,"t":21.5},{"s":24,"d":210,"t":22.9},{"s":24,"d":220,"t":22.1},{"s":24,"d":230,"t":21.4},{"s":24,"d":240,"t":19.6},{"s":24,"d":250,"t":18.2},{"s":24,"d":260,"t":15.5},{"s":24,"d":270,"t":14.2},{"s":24,"d":280,"t":11.0},{"s":24,"d":290,"t":9.8},{"s":24,"d":300,"t":6.4},{"s":24,"d":310,"t":5.4},{"s":24,"d":320,"t":0.8},{"s":24,"d":330,"t":-0.2},{"s":24,"d":340,"t":-3.2},{"s":24,"d":350,"t":-1.8},{"s":24,"d":360,"t":-4.2},{"s":24,"d":365,"t":-4.1},
{"s":25,"d":0,"t":2.5},{"s":25,"d":10,"t":1.3},{"s":25,"d":20,"t":3.3},{"s":25,"d":30,"t":2.7},{"s":25,"d":40,"t":5.0},{"s":25,"d":50,"t":4.8},{"s":25,"d":60,"t":6.3},{"s":25,"d":70,"t":6.9},{"s":25,"d":80,"t":8.6},{"s":25,"d":90,"t":9.3},{"s":25,"d":100,"t":10.0},{"s":25,"d":110,"t":11.2},{"s":25,"d":120,"t":11.8},{"s":25,"d":130,"t":13.0},{"s":25,"d":140,"t":13.2},{"s":25,"d":150,"t":14.1},{"s":25,"d":160,"t":14.6},{"s":25,"d":170,"t":15.7},{"s":25,"d":180,"t":16.3},{"s":25,"d":190,"t":16.4},{"s":25,"d":200,"t":17.2},{"s":25,"d":210,"t":17.4},{"s":25,"d":220,"t":17.7},{"s":25,"d":230,"t":16.5},{"s":25,"d":240,"t":16.2},{"s":25,"d":250,"t":15.1},{"s":25,"d":260,"t":14.4},{"s":25,"d":270,"t":13.1},{"s":25,"d":280,"t":12.4},{"s":25,"d":290,"t":10.6},{"s":25,"d":300,"t":9.9},{"s":25,"d":310,"t":8.0},{"s":25,"d":320,"t":6.5},{"s":25,"d":330,"t":4.3},{"s":25,"d":340,"t":4.0},{"s":25,"d":350,"t":3.0},{"s":25,"d":360,"t":3.4},{"s":25,"d":365,"t":1.9},
{"s":26,"d":0,"t":2.8},{"s":26,"d":10,"t":3.0},{"s":26,"d":20,"t":4.0},{"s":26,"d":30,"t":3.1},{"s":26,"d":40,"t":5.3},{"s":26,"d":50,"t":6.3},{"s":26,"d":60,"t":5.9},{"s":26,"d":70,"t":7.2},{"s":26,"d":80,"t":8.6},{"s":26,"d":90,"t":9.4},{"s":26,"d":100,"t":9.7},{"s":26,"d":110,"t":10.7},{"s":26,"d":120,"t":11.8},{"s":26,"d":130,"t":11.9},{"s":26,"d":140,"t":12.6},{"s":26,"d":150,"t":13.5},{"s":26,"d":160,"t":14.1},{"s":26,"d":170,"t":14.5},{"s":26,"d":180,"t":15.4},{"s":26,"d":190,"t":15.9},{"s":26,"d":200,"t":16.0},{"s":26,"d":210,"t":16.6},{"s":26,"d":220,"t":16.6},{"s":26,"d":230,"t":15.5},{"s":26,"d":240,"t":15.4},{"s":26,"d":250,"t":14.4},{"s":26,"d":260,"t":13.7},{"s":26,"d":270,"t":13.0},{"s":26,"d":280,"t":11.5},{"s":26,"d":290,"t":10.2},{"s":26,"d":300,"t":9.7},{"s":26,"d":310,"t":8.4},{"s":26,"d":320,"t":6.4},{"s":26,"d":330,"t":5.4},{"s":26,"d":340,"t":4.6},{"s":26,"d":350,"t":3.6},{"s":26,"d":360,"t":3.9},{"s":26,"d":365,"t":2.9},
{"s":27,"d":0,"t":-8.7},{"s":27,"d":10,"t":-11.4},{"s":27,"d":20,"t":-8.1},{"s":27,"d":30,"t":-9.4},{"s":27,"d":40,"t":-6.5},{"s":27,"d":50,"t":-4.6},{"s":27,"d":60,"t":-5.3},{"s":27,"d":70,"t":-3.5},{"s":27,"d":80,"t":-0.7},{"s":27,"d":90,"t":1.5},{"s":27,"d":100,"t":2.2},{"s":27,"d":110,"t":3.8},{"s":27,"d":120,"t":5.9},{"s":27,"d":130,"t":6.2},{"s":27,"d":140,"t":8.0},{"s":27,"d":150,"t":9.0},{"s":27,"d":160,"t":9.7},{"s":27,"d":170,"t":11.8},{"s":27,"d":180,"t":12.5},{"s":27,"d":190,"t":13.7},{"s":27,"d":200,"t":14.5},{"s":27,"d":210,"t":14.6},{"s":27,"d":220,"t":15.4},{"s":27,"d":230,"t":13.8},{"s":27,"d":240,"t":12.2},{"s":27,"d":250,"t":11.4},{"s":27,"d":260,"t":9.1},{"s":27,"d":270,"t":8.1},{"s":27,"d":280,"t":5.0},{"s":27,"d":290,"t":4.0},{"s":27,"d":300,"t":0.3},{"s":27,"d":310,"t":0.1},{"s":27,"d":320,"t":-4.6},{"s":27,"d":330,"t":-5.6},{"s":27,"d":340,"t":-6.7},{"s":27,"d":350,"t":-9.0},{"s":27,"d":360,"t":-9.0},{"s":27,"d":365,"t":-8.8},
{"s":28,"d":0,"t":0.7},{"s":28,"d":10,"t":-0.7},{"s":28,"d":20,"t":0.9},{"s":28,"d":30,"t":1.7},{"s":28,"d":40,"t":1.6},{"s":28,"d":50,"t":3.0},{"s":28,"d":60,"t":2.4},{"s":28,"d":70,"t":4.5},{"s":28,"d":80,"t":5.1},{"s":28,"d":90,"t":5.6},{"s":28,"d":100,"t":7.1},{"s":28,"d":110,"t":7.1},{"s":28,"d":120,"t":8.4},{"s":28,"d":130,"t":8.7},{"s":28,"d":140,"t":9.6},{"s":28,"d":150,"t":9.6},{"s":28,"d":160,"t":10.7},{"s":28,"d":170,"t":11.3},{"s":28,"d":180,"t":11.6},{"s":28,"d":190,"t":12.4},{"s":28,"d":200,"t":12.5},{"s":28,"d":210,"t":13.2},{"s":28,"d":220,"t":12.8},{"s":28,"d":230,"t":12.5},{"s":28,"d":240,"t":11.6},{"s":28,"d":250,"t":11.2},{"s":28,"d":260,"t":9.9},{"s":28,"d":270,"t":9.6},{"s":28,"d":280,"t":8.0},{"s":28,"d":290,"t":7.5},{"s":28,"d":300,"t":5.9},{"s":28,"d":310,"t":5.4},{"s":28,"d":320,"t":3.2},{"s":28,"d":330,"t":2.8},{"s":28,"d":340,"t":1.3},{"s":28,"d":350,"t":2.0},{"s":28,"d":360,"t":0.8},{"s":28,"d":365,"t":-0.2},
{"s":29,"d":0,"t":-18.5},{"s":29,"d":10,"t":-17.7},{"s":29,"d":20,"t":-19.3},{"s":29,"d":30,"t":-17.6},{"s":29,"d":40,"t":-18.2},{"s":29,"d":50,"t":-14.9},{"s":29,"d":60,"t":-13.8},{"s":29,"d":70,"t":-10.2},{"s":29,"d":80,"t":-8.4},{"s":29,"d":90,"t":-4.8},{"s":29,"d":100,"t":-2.9},{"s":29,"d":110,"t":0.2},{"s":29,"d":120,"t":2.4},{"s":29,"d":130,"t":5.8},{"s":29,"d":140,"t":7.5},{"s":29,"d":150,"t":9.8},{"s":29,"d":160,"t":10.6},{"s":29,"d":170,"t":12.3},{"s":29,"d":180,"t":12.3},{"s":29,"d":190,"t":13.5},{"s":29,"d":200,"t":14.0},{"s":29,"d":210,"t":13.3},{"s":29,"d":220,"t":13.3},{"s":29,"d":230,"t":11.3},{"s":29,"d":240,"t":10.5},{"s":29,"d":250,"t":7.9},{"s":29,"d":260,"t":6.9},{"s":29,"d":270,"t":4.6},{"s":29,"d":280,"t":3.9},{"s":29,"d":290,"t":0.1},{"s":29,"d":300,"t":-1.0},{"s":29,"d":310,"t":-5.6},{"s":29,"d":320,"t":-7.2},{"s":29,"d":330,"t":-11.7},{"s":29,"d":340,"t":-12.6},{"s":29,"d":350,"t":-16.0},{"s":29,"d":360,"t":-16.0},{"s":29,"d":365,"t":-18.7},
{"s":30,"d":0,"t":-28.9},{"s":30,"d":10,"t":-29.2},{"s":30,"d":20,"t":-29.0},{"s":30,"d":30,"t":-30.3},{"s":30,"d":40,"t":-27.0},{"s":30,"d":50,"t":-24.1},{"s":30,"d":60,"t":-22.5},{"s":30,"d":70,"t":-19.2},{"s":30,"d":80,"t":-14.0},{"s":30,"d":90,"t":-10.9},{"s":30,"d":100,"t":-8.0},{"s":30,"d":110,"t":-3.9},{"s":30,"d":120,"t":0.4},{"s":30,"d":130,"t":2.9},{"s":30,"d":140,"t":6.3},{"s":30,"d":150,"t":9.2},{"s":30,"d":160,"t":11.3},{"s":30,"d":170,"t":12.2},{"s":30,"d":180,"t":13.6},{"s":30,"d":190,"t":14.5},{"s":30,"d":200,"t":14.2},{"s":30,"d":210,"t":14.7},{"s":30,"d":220,"t":13.9},{"s":30,"d":230,"t":11.4},{"s":30,"d":240,"t":10.1},{"s":30,"d":250,"t":7.2},{"s":30,"d":260,"t":5.1},{"s":30,"d":270,"t":3.3},{"s":30,"d":280,"t":0.0},{"s":30,"d":290,"t":-3.1},{"s":30,"d":300,"t":-5.8},{"s":30,"d":310,"t":-10.0},{"s":30,"d":320,"t":-15.5},{"s":30,"d":330,"t":-18.2},{"s":30,"d":340,"t":-22.4},{"s":30,"d":350,"t":-26.4},{"s":30,"d":360,"t":-26.7},{"s":30,"d":365,"t":-28.8},
{"s":31,"d":0,"t":-26.3},{"s":31,"d":10,"t":-28.9},{"s":31,"d":20,"t":-29.7},{"s":31,"d":30,"t":-27.4},{"s":31,"d":40,"t":-25.8},{"s":31,"d":50,"t":-25.0},{"s":31,"d":60,"t":-19.9},{"s":31,"d":70,"t":-19.2},{"s":31,"d":80,"t":-16.5},{"s":31,"d":90,"t":-12.1},{"s":31,"d":100,"t":-8.4},{"s":31,"d":110,"t":-5.8},{"s":31,"d":120,"t":-0.9},{"s":31,"d":130,"t":3.8},{"s":31,"d":140,"t":8.0},{"s":31,"d":150,"t":9.4},{"s":31,"d":160,"t":11.5},{"s":31,"d":170,"t":13.8},{"s":31,"d":180,"t":14.7},{"s":31,"d":190,"t":14.9},{"s":31,"d":200,"t":15.9},{"s":31,"d":210,"t":15.1},{"s":31,"d":220,"t":14.8},{"s":31,"d":230,"t":13.1},{"s":31,"d":240,"t":10.1},{"s":31,"d":250,"t":8.9},{"s":31,"d":260,"t":5.9},{"s":31,"d":270,"t":3.4},{"s":31,"d":280,"t":1.8},{"s":31,"d":290,"t":-1.2},{"s":31,"d":300,"t":-6.2},{"s":31,"d":310,"t":-9.7},{"s":31,"d":320,"t":-12.8},{"s":31,"d":330,"t":-17.6},{"s":31,"d":340,"t":-22.6},{"s":31,"d":350,"t":-23.7},{"s":31,"d":360,"t":-27.0},{"s":31,"d":365,"t":-26.2},
{"s":32,"d":0,"t":-24.5},{"s":32,"d":10,"t":-24.8},{"s":32,"d":20,"t":-27.2},{"s":32,"d":30,"t":-25.5},{"s":32,"d":40,"t":-27.2},{"s":32,"d":50,"t":-26.5},{"s":32,"d":60,"t":-26.1},{"s":32,"d":70,"t":-24.2},{"s":32,"d":80,"t":-22.8},{"s":32,"d":90,"t":-21.7},{"s":32,"d":100,"t":-18.2},{"s":32,"d":110,"t":-15.2},{"s":32,"d":120,"t":-10.4},{"s":32,"d":130,"t":-6.5},{"s":32,"d":140,"t":-2.6},{"s":32,"d":150,"t":0.3},{"s":32,"d":160,"t":4.8},{"s":32,"d":170,"t":6.5},{"s":32,"d":180,"t":7.0},{"s":32,"d":190,"t":8.6},{"s":32,"d":200,"t":8.6},{"s":32,"d":210,"t":8.3},{"s":32,"d":220,"t":6.9},{"s":32,"d":230,"t":6.8},{"s":32,"d":240,"t":4.3},{"s":32,"d":250,"t":3.3},{"s":32,"d":260,"t":1.0},{"s":32,"d":270,"t":-0.2},{"s":32,"d":280,"t":-4.2},{"s":32,"d":290,"t":-6.4},{"s":32,"d":300,"t":-11.8},{"s":32,"d":310,"t":-14.4},{"s":32,"d":320,"t":-21.4},{"s":32,"d":330,"t":-21.9},{"s":32,"d":340,"t":-24.5},{"s":32,"d":350,"t":-23.4},{"s":32,"d":360,"t":-24.3},{"s":32,"d":365,"t":-23.0},
{"s":33,"d":0,"t":-26.4},{"s":33,"d":10,"t":-29.2},{"s":33,"d":20,"t":-28.7},{"s":33,"d":30,"t":-30.0},{"s":33,"d":40,"t":-27.9},{"s":33,"d":50,"t":-30.8},{"s":33,"d":60,"t":-26.8},{"s":33,"d":70,"t":-28.3},{"s":33,"d":80,"t":-24.4},{"s":33,"d":90,"t":-22.8},{"s":33,"d":100,"t":-20.5},{"s":33,"d":110,"t":-14.5},{"s":33,"d":120,"t":-10.6},{"s":33,"d":130,"t":-3.9},{"s":33,"d":140,"t":-0.8},{"s":33,"d":150,"t":4.5},{"s":33,"d":160,"t":8.5},{"s":33,"d":170,"t":11.4},{"s":33,"d":180,"t":12.5},{"s":33,"d":190,"t":12.9},{"s":33,"d":200,"t":14.3},{"s":33,"d":210,"t":12.6},{"s":33,"d":220,"t":12.6},{"s":33,"d":230,"t":10.7},{"s":33,"d":240,"t":9.1},{"s":33,"d":250,"t":5.2},{"s":33,"d":260,"t":2.9},{"s":33,"d":270,"t":-1.7},{"s":33,"d":280,"t":-4.9},{"s":33,"d":290,"t":-10.3},{"s":33,"d":300,"t":-13.6},{"s":33,"d":310,"t":-18.5},{"s":33,"d":320,"t":-21.5},{"s":33,"d":330,"t":-25.6},{"s":33,"d":340,"t":-24.9},{"s":33,"d":350,"t":-27.3},{"s":33,"d":360,"t":-24.9},{"s":33,"d":365,"t":-26.5},
{"s":34,"d":0,"t":-30.6},{"s":34,"d":10,"t":-32.0},{"s":34,"d":20,"t":-33.4},{"s":34,"d":30,"t":-33.1},{"s":34,"d":40,"t":-32.5},{"s":34,"d":50,"t":-33.1},{"s":34,"d":60,"t":-32.8},{"s":34,"d":70,"t":-34.3},{"s":34,"d":80,"t":-31.0},{"s":34,"d":90,"t":-29.6},{"s":34,"d":100,"t":-28.1},{"s":34,"d":110,"t":-24.1},{"s":34,"d":120,"t":-19.8},{"s":34,"d":130,"t":-16.0},{"s":34,"d":140,"t":-11.8},{"s":34,"d":150,"t":-8.2},{"s":34,"d":160,"t":-4.0},{"s":34,"d":170,"t":-0.6},{"s":34,"d":180,"t":2.4},{"s":34,"d":190,"t":4.0},{"s":34,"d":200,"t":4.9},{"s":34,"d":210,"t":4.3},{"s":34,"d":220,"t":3.2},{"s":34,"d":230,"t":1.9},{"s":34,"d":240,"t":-0.6},{"s":34,"d":250,"t":-3.8},{"s":34,"d":260,"t":-6.2},{"s":34,"d":270,"t":-8.9},{"s":34,"d":280,"t":-11.5},{"s":34,"d":290,"t":-16.0},{"s":34,"d":300,"t":-19.6},{"s":34,"d":310,"t":-22.0},{"s":34,"d":320,"t":-25.0},{"s":34,"d":330,"t":-28.3},{"s":34,"d":340,"t":-28.5},{"s":34,"d":350,"t":-29.5},{"s":34,"d":360,"t":-30.0},{"s":34,"d":365,"t":-30.5}
]
},
"hconcat":[
{
"width":387,"height":377,
"view":{"stroke":"#333","strokeWidth":1},
"title":{"text":"(a) Daily temperature curve (smooth)","orient":"bottom","anchor":"start","frame":"group","dx":-36,"offset":45},
"layer":[
{"data":{"name":"st"},
"mark":{"type":"line","strokeWidth":1,"clip":true},
"encoding":{
"x":{"field":"d","type":"quantitative","scale":{"domain":[-18.25,383.25],"nice":false,"zero":false},"axis":{"title":"Day","values":[0,50,100,150,200,250,300,350],"titlePadding":1}},
"y":{"field":"t","type":"quantitative","scale":{"domain":[-37.6,25.7],"nice":false,"zero":false},"axis":{"title":"Temperature","values":[-30,-20,-10,0,10,20],"labelExpr":"datum.value < 0 ? '-' + (-datum.value) : '' + datum.value","titlePadding":4}},
"color":{"field":"s","type":"nominal","scale":{"range":["#1f77b4","#ff7f0e","#2ca02c","#d62728","#9467bd","#8c564b","#e377c2","#7f7f7f","#bcbd22","#17becf"]},"legend":null}
}},
{"data":{"values":[{}]},"mark":{"type":"rule","color":"#1f77b4","strokeWidth":1.2,"strokeDash":[5,2.5]},"encoding":{"y":{"datum":0}}}
]
},
{
"width":383,"height":377,
"view":{"stroke":null},
"title":{"text":"(b) Clustering result based on FSMIclust","orient":"bottom","anchor":"start","frame":"group","dx":-73,"offset":45},
"resolve":{"scale":{"color":"independent"},"axis":{"x":"independent"}},
"layer":[
{"data":{"name":"st"},
"transform":[{"lookup":"s","from":{"data":{"name":"cl"},"key":"s","fields":["k"]}}],
"mark":{"type":"line","strokeWidth":1.8,"opacity":0.2,"strokeDash":[1.5,1.5],"clip":true},
"encoding":{
"x":{"field":"d","type":"quantitative","scale":{"domain":[-18.25,378.8],"nice":false,"zero":false},"axis":{"title":"Day","values":[0,50,100,150,200,250,300,350],"titlePadding":1,"domain":true,"domainColor":"#777"}},
"y":{"field":"t","type":"quantitative","scale":{"domain":[-37.6,25.7],"nice":false,"zero":false},"axis":{"title":"Temperature","values":[-30,-20,-10,0,10,20],"labelExpr":"datum.value < 0 ? '-' + (-datum.value) : '' + datum.value","titlePadding":4,"domain":true,"domainColor":"#777"}},
"color":{"field":"k","type":"nominal","scale":{"domain":[1,2,3,4],"range":["#ff0000","#000000","#0000ff","#008000"]},"legend":null},
"detail":{"field":"s"}
}},
{"data":{"values":[{}]},"mark":{"type":"rule","color":"#1f77b4","strokeWidth":1.2,"strokeDash":[5,2.5]},"encoding":{"y":{"datum":0}}},
{"data":{"name":"mn"},
"transform":[{"lookup":"k","from":{"data":{"name":"nm"},"key":"k","fields":["n"]}}],
"mark":{"type":"line","strokeWidth":1.6,"clip":true},
"encoding":{
"x":{"field":"d","type":"quantitative","axis":{"orient":"top","labels":false,"ticks":false,"title":null,"domain":true,"domainColor":"#777"}},
"y":{"field":"t","type":"quantitative"},
"color":{"field":"n","type":"nominal","scale":{"domain":["Cluster 1 (Atlantic)","Cluster 2 (Continental)","Cluster 3 (Pacific)","Cluster 4 (Arctic)"],"range":["#ff0000","#000000","#0000ff","#008000"]},
"legend":{"title":null,"orient":"none","legendX":9,"legendY":5,"padding":0,"symbolType":"M-1.27,0H1.27","symbolSize":300,"symbolStrokeWidth":1.6,"labelFontSize":10,"labelFont":"Liberation Serif","labelColor":"#333","rowPadding":0,"labelOffset":8}}
}}
]
}
]
}
